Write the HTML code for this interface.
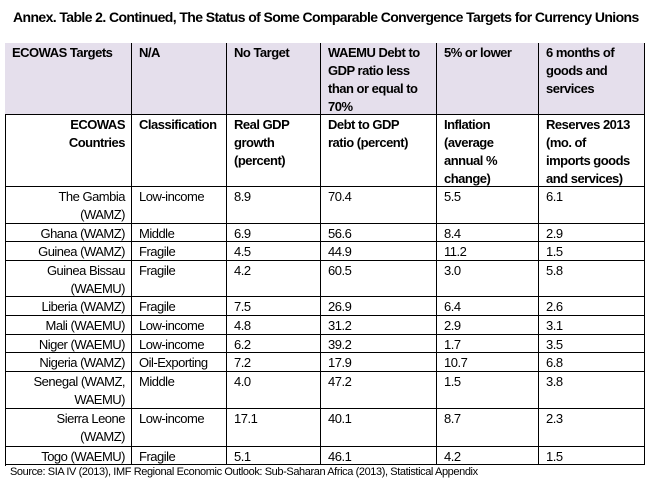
<!DOCTYPE html>
<html><head><meta charset="utf-8"><style>
body{margin:0;width:653px;height:485px;background:#fff;font-family:"Liberation Sans",sans-serif;position:relative;overflow:hidden;color:#000}
.t{position:absolute;left:13px;top:9px;font-size:14px;font-weight:bold;letter-spacing:-0.6px;white-space:nowrap}
.c{position:absolute;box-sizing:border-box;border-right:1px solid #000;border-bottom:1px solid #000;font-size:13px;line-height:18px;padding:1px 4px 0 7px;letter-spacing:-0.5px;overflow:hidden;white-space:nowrap}
.h{background:#e5dfec;font-weight:bold}
.b{font-weight:bold}
.r{text-align:right;padding-right:6px}
.s{position:absolute;left:10px;top:466px;font-size:11px;letter-spacing:-0.4px;white-space:nowrap}
.frame{position:absolute;left:5px;top:43px;width:640px;height:423px;border-left:1px solid #000;border-top:1px solid #000;box-sizing:border-box}
</style></head><body>
<div class="t">Annex. Table 2. Continued, The Status of Some Comparable Convergence Targets for Currency Unions</div>
<div class="frame"></div>
<div id="tbl"></div>
<div class="s">Source: SIA IV (2013), IMF Regional Economic Outlook: Sub-Saharan Africa (2013), Statistical Appendix</div>
<script>
var colX=[5,132,227,321,437,539,645];
var rowY=[43,115,187,224,242,261,297,316,335,353,372,409,447,465];
var header=["ECOWAS Targets","N/A","No Target","WAEMU Debt to<br>GDP ratio less<br>than or equal to<br>70%","5% or lower","6 months of<br>goods and<br>services"];
var sub=["ECOWAS<br>Countries","Classification","Real GDP<br>growth<br>(percent)","Debt to GDP<br>ratio (percent)","Inflation<br>(average<br>annual %<br>change)","Reserves 2013<br>(mo. of<br>imports goods<br>and services)"];
var countries=["The Gambia<br>(WAMZ)","Ghana (WAMZ)","Guinea (WAMZ)","Guinea Bissau<br>(WAEMU)","Liberia (WAMZ)","Mali (WAEMU)","Niger (WAEMU)","Nigeria (WAMZ)","Senegal (WAMZ,<br>WAEMU)","Sierra Leone<br>(WAMZ)","Togo (WAEMU)"];
var classes=["Low-income","Middle","Fragile","Fragile","Fragile","Low-income","Low-income","Oil-Exporting","Middle","Low-income","Fragile"];
var gdp=["8.9","6.9","4.5","4.2","7.5","4.8","6.2","7.2","4.0","17.1","5.1"];
var debt=["70.4","56.6","44.9","60.5","26.9","31.2","39.2","17.9","47.2","40.1","46.1"];
var infl=["5.5","8.4","11.2","3.0","6.4","2.9","1.7","10.7","1.5","8.7","4.2"];
var res=["6.1","2.9","1.5","5.8","2.6","3.1","3.5","6.8","3.8","2.3","1.5"];
var tbl=document.getElementById('tbl');
function cell(r,c,html,cls,name){
  var d=document.createElement('div');
  d.className='c '+cls;
  d.style.left=colX[c]+'px';d.style.top=rowY[r]+'px';
  d.style.width=(colX[c+1]-colX[c])+'px';d.style.height=(rowY[r+1]-rowY[r])+'px';
  d.innerHTML=html;
  
  
  tbl.appendChild(d);
}
for(var c=0;c<6;c++){cell(0,c,header[c],'h','header-cell');cell(1,c,sub[c],'b'+(c==0?' r':''),'subheader-cell');}
for(var i=0;i<countries.length;i++){
  var vals=[countries[i],classes[i],gdp[i],debt[i],infl[i],res[i]];
  for(var c=0;c<6;c++)cell(i+2,c,vals[c],c==0?'r':'','data-cell');
}
</script>
</body></html>
